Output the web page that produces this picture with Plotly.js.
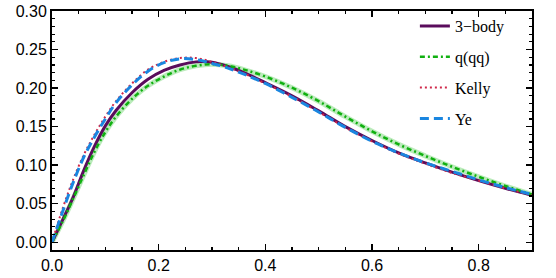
<!DOCTYPE html>
<html>
<head>
<meta charset="utf-8">
<script src="https://cdn.plot.ly/plotly-3.0.1.min.js"></script>
<style>html,body{margin:0;padding:0;background:#fff}#chart{width:556px;height:278px}</style>
</head>
<body>
<div id="chart"></div>
<script>
const xs = [0, 0.02, 0.04, 0.06, 0.08, 0.10, 0.12, 0.15, 0.18, 0.21, 0.24, 0.27, 0.30, 0.33, 0.36, 0.40, 0.45, 0.50, 0.55, 0.60, 0.65, 0.70, 0.75, 0.80, 0.85, 0.90];
const threeBody = [0, 0.029, 0.059, 0.094, 0.125, 0.151, 0.171, 0.194, 0.2115, 0.223, 0.230, 0.234, 0.2335, 0.228, 0.220, 0.207, 0.190, 0.1705, 0.150, 0.132, 0.116, 0.103, 0.091, 0.080, 0.070, 0.061];
const qqq = [0, 0.027, 0.057, 0.088, 0.118, 0.143, 0.163, 0.186, 0.203, 0.215, 0.224, 0.229, 0.231, 0.229, 0.224, 0.215, 0.2005, 0.183, 0.163, 0.144, 0.127, 0.112, 0.098, 0.085, 0.073, 0.062];
const kelly = [0, 0.044, 0.082, 0.114, 0.140, 0.163, 0.183, 0.206, 0.224, 0.234, 0.239, 0.239, 0.234, 0.227, 0.219, 0.206, 0.189, 0.169, 0.149, 0.131, 0.115, 0.102, 0.090, 0.080, 0.070, 0.061];
const ye = [0, 0.040, 0.078, 0.111, 0.137, 0.160, 0.181, 0.204, 0.222, 0.233, 0.238, 0.237, 0.232, 0.226, 0.218, 0.206, 0.188, 0.169, 0.149, 0.131, 0.116, 0.103, 0.092, 0.081, 0.071, 0.062];
const names = ["3\u2212body", "q(qq)", "Kelly", "Ye"];
const xTicks = [0, 0.2, 0.4, 0.6, 0.8];
const xTickText = ["0.0", "0.2", "0.4", "0.6", "0.8"];
const yTicks = [0, 0.05, 0.10, 0.15, 0.20, 0.25, 0.30];
const yTickText = ["0.00", "0.05", "0.10", "0.15", "0.20", "0.25", "0.30"];

const traces = [
  {x: xs, y: qqq, mode: 'lines', line: {color: 'rgba(150,225,150,0.65)', width: 5, shape: 'spline'}, showlegend: false, hoverinfo: 'skip'},
  {x: xs, y: threeBody, name: names[0], legendgroup: 'a', mode: 'lines', line: {color: '#5a0c5c', width: 3, shape: 'spline'}},
  {x: xs, y: qqq, name: names[1], legendgroup: 'b', mode: 'lines', line: {color: '#10b010', width: 2.5, dash: '5px,3px,2px,3px', shape: 'spline'}},
  {x: xs, y: kelly, name: names[2], legendgroup: 'c', mode: 'lines', line: {color: '#d0284a', width: 2, dash: '2px,3px', shape: 'spline'}},
  {x: xs, y: ye, name: names[3], legendgroup: 'd', mode: 'lines', line: {color: '#1a86e0', width: 3, dash: '9px,5px', shape: 'spline'}}
];

const axisCommon = {
  showgrid: false, zeroline: false, showline: true, linecolor: '#000', linewidth: 2,
  mirror: 'allticks', ticks: 'inside', ticklen: 6, tickwidth: 1.5, tickcolor: '#000',
  tickfont: {family: 'Liberation Sans, Arial, sans-serif', size: 16, color: '#000'}
};

const layout = {
  width: 556, height: 278,
  margin: {l: 52, r: 23.5, t: 9, b: 28},
  paper_bgcolor: '#fff', plot_bgcolor: '#fff',
  xaxis: Object.assign({}, axisCommon, {
    range: [0, 0.9], tickmode: 'array', tickvals: xTicks, ticktext: xTickText,
    minor: {ticks: 'inside', ticklen: 3, tickwidth: 1.2, tickcolor: '#000', dtick: 0.05, tick0: 0, showgrid: false}
  }),
  yaxis: Object.assign({}, axisCommon, {
    range: [-0.01, 0.30], tickmode: 'array', tickvals: yTicks, ticktext: yTickText,
    minor: {ticks: 'inside', ticklen: 3, tickwidth: 1.2, tickcolor: '#000', dtick: 0.01, tick0: 0, showgrid: false}
  }),
  showlegend: true,
  legend: {
    x: 0.756, y: 1.008, xanchor: 'left', yanchor: 'top',
    bgcolor: 'rgba(0,0,0,0)', borderwidth: 0,
    font: {family: 'Liberation Serif, Times New Roman, serif', size: 16, color: '#000'},
    traceorder: 'grouped', tracegroupgap: 7
  }
};

Plotly.newPlot('chart', traces, layout, {displayModeBar: false, staticPlot: true});
</script>
</body>
</html>
